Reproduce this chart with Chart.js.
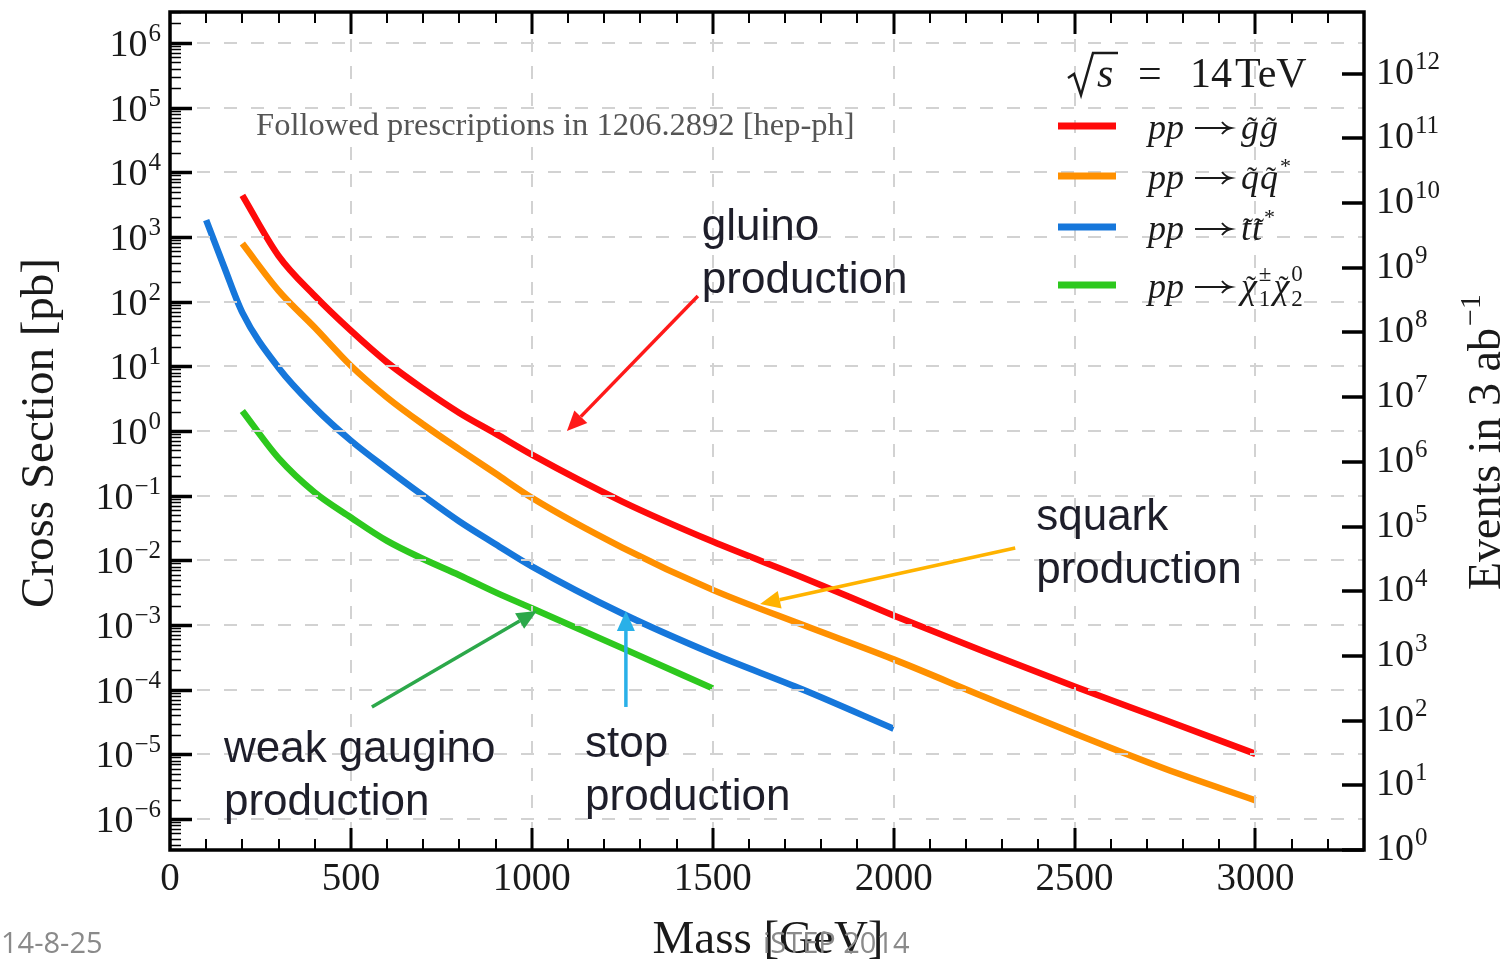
<!DOCTYPE html>
<html>
<head>
<meta charset="utf-8">
<script src="https://cdn.jsdelivr.net/npm/chart.js@4.4.1/dist/chart.umd.min.js"></script>
<style>
  html, body { margin: 0; padding: 0; background: #ffffff; }
  canvas { display: block; }
</style>
</head>
<body>
<canvas id="xsec" width="1506" height="959"></canvas>
<script>
// SUSY pair-production cross sections at sqrt(s) = 14 TeV (mass in GeV, sigma in pb)
const gluinoMass = [200, 300, 400, 500, 600, 700, 800, 900, 1000, 1250, 1500, 1750, 2000, 2250, 2500, 2750, 3000];
const gluinoXsec = [4400, 510, 123, 35.5, 11.5, 4.47, 1.9, 0.91, 0.43, 0.081, 0.0195, 5.4e-3, 1.41e-3, 3.9e-4, 1.12e-4, 3.4e-5, 1.02e-5];

const squarkMass = [200, 300, 400, 500, 600, 700, 800, 900, 1000, 1250, 1500, 1750, 2000, 2250, 2500, 2750, 3000];
const squarkXsec = [790, 148, 39.8, 10.2, 3.3, 1.26, 0.52, 0.22, 0.093, 0.0158, 3.5e-3, 1.0e-3, 2.95e-4, 7.8e-5, 2.1e-5, 6.0e-6, 1.95e-6];

const stopMass = [100, 150, 200, 300, 400, 500, 600, 700, 800, 900, 1000, 1250, 1500, 1750, 2000];
const stopXsec = [1820, 340, 67.6, 9.5, 2.3, 0.71, 0.26, 0.10, 0.040, 0.0178, 8.1e-3, 1.51e-3, 3.6e-4, 1.0e-4, 2.5e-5];

const gauginoMass = [200, 300, 400, 500, 600, 700, 800, 900, 1000, 1250, 1500];
const gauginoXsec = [2.04, 0.38, 0.112, 0.046, 0.020, 0.0105, 5.9e-3, 3.2e-3, 1.82e-3, 4.4e-4, 1.05e-4];

// Axis ranges and tick labels
const massMin = 0, massMax = 3300;
const massTicks = [0, 500, 1000, 1500, 2000, 2500, 3000];
const xsecMin = 1 / 3e6, xsecMax = 3e6;
const xsecExponents = [-6, -5, -4, -3, -2, -1, 0, 1, 2, 3, 4, 5, 6];
const eventExponents = [0, 1, 2, 3, 4, 5, 6, 7, 8, 9, 10, 11, 12];
const lumiInvPb = 3e6; // 3 ab^-1 in pb^-1

const seriesColors = ['#ff0a0a', '#ff9000', '#1677db', '#2dc81e'];

const SERIF = '"Liberation Serif", "DejaVu Serif", serif';
const SANS = '"Liberation Sans", Arial, sans-serif';

function pts(ms, vs) { return ms.map((m, i) => ({ x: m, y: vs[i] })); }

function drawPow(ctx, exp, x, y, align) {
  const base = '10';
  const sup = exp < 0 ? '\u2212' + (-exp) : String(exp);
  ctx.font = '38px ' + SERIF;
  const wb = ctx.measureText(base).width;
  ctx.font = '25px ' + SERIF;
  const ws = ctx.measureText(sup).width;
  const x0 = align === 'right' ? x - (wb + 1 + ws) : x;
  ctx.textAlign = 'left';
  ctx.textBaseline = 'alphabetic';
  ctx.font = '38px ' + SERIF;
  ctx.fillText(base, x0, y);
  ctx.font = '25px ' + SERIF;
  ctx.fillText(sup, x0 + wb + 1, y - 15);
}

function arrow(ctx, x1, y1, x2, y2, color) {
  const a = Math.atan2(y2 - y1, x2 - x1);
  const hl = 20, hw = 9;
  const bx = x2 - hl * Math.cos(a), by = y2 - hl * Math.sin(a);
  ctx.strokeStyle = color;
  ctx.lineWidth = 3.5;
  ctx.lineCap = 'butt';
  ctx.beginPath(); ctx.moveTo(x1, y1); ctx.lineTo(bx, by); ctx.stroke();
  ctx.fillStyle = color;
  ctx.beginPath();
  ctx.moveTo(x2, y2);
  ctx.lineTo(bx + hw * Math.sin(a), by - hw * Math.cos(a));
  ctx.lineTo(bx - hw * Math.sin(a), by + hw * Math.cos(a));
  ctx.closePath(); ctx.fill();
}

// Labelled arrows, anchored in data coordinates (mass, sigma)
const callouts = [
  { lines: ['gluino', 'production'], at: [1470, 10 ** 2.95], tail: [1459, 10 ** 2.087], tip: [1097, 1], color: '#ff1a1a' },
  { lines: ['squark', 'production'], at: [2394, 10 ** -1.53], tail: [2336, 10 ** -1.808], tip: [1631, 10 ** -2.674], color: '#ffb300' },
  { lines: ['weak gaugino', 'production'], at: [149, 10 ** -5.12], tail: [558, 10 ** -4.266], tip: [1014, 10 ** -2.783], color: '#2ca84a' },
  { lines: ['stop', 'production'], at: [1147, 10 ** -5.04], tail: [1260, 10 ** -4.266], tip: [1260, 10 ** -2.783], color: '#29b0e8' }
];

const legendRows = [
  { color: seriesColors[0], parts: [['g', 'tilde'], ['g', 'tilde']] },
  { color: seriesColors[1], parts: [['q', 'tilde'], ['q', 'tilde'], ['*', 'sup']] },
  { color: seriesColors[2], parts: [['t', 'tilde'], ['t', 'tilde'], ['*', 'sup']] },
  { color: seriesColors[3], parts: [['\u03C7', 'tilde'], ['1', 'sub', '\u00B1'], ['\u03C7', 'tilde'], ['2', 'sub', '0']] }
];

// Dashed grid, drawn over the curves
const gridPlugin = {
  id: 'dashedGrid',
  afterDatasetsDraw(chart) {
    const { ctx, chartArea: ca, scales } = chart;
    ctx.save();
    ctx.strokeStyle = '#d2d2d2';
    ctx.lineWidth = 2;
    ctx.setLineDash([13, 14]);
    massTicks.filter(v => v > 0).forEach(v => {
      const px = Math.round(scales.x.getPixelForValue(v));
      ctx.beginPath(); ctx.moveTo(px, ca.top); ctx.lineTo(px, ca.bottom); ctx.stroke();
    });
    xsecExponents.forEach(e => {
      const py = Math.round(scales.y.getPixelForValue(10 ** e));
      ctx.beginPath(); ctx.moveTo(ca.left, py); ctx.lineTo(ca.right, py); ctx.stroke();
    });
    ctx.restore();
  }
};

// Frame, ticks, tick labels, titles, legend and callouts
const decorPlugin = {
  id: 'decor',
  afterDraw(chart) {
    const { ctx, chartArea: ca, scales } = chart;
    const xs = scales.x, ys = scales.y, ys2 = scales.y2;
    ctx.save();
    ctx.strokeStyle = '#000';
    ctx.fillStyle = '#000';
    ctx.setLineDash([]);

    // x ticks (bottom and top)
    for (let v = 100; v < massMax; v += 100) {
      const px = Math.round(xs.getPixelForValue(v));
      const major = v % 500 === 0;
      const len = major ? 22 : 11;
      ctx.lineWidth = major ? 3 : 2;
      ctx.beginPath();
      ctx.moveTo(px, ca.bottom); ctx.lineTo(px, ca.bottom - len);
      ctx.moveTo(px, ca.top); ctx.lineTo(px, ca.top + len);
      ctx.stroke();
    }
    // left y ticks with log minors
    for (let e = -7; e <= 6; e++) {
      for (let k = 1; k <= 9; k++) {
        const v = k * 10 ** e;
        if (v < xsecMin || v > xsecMax) continue;
        const py = Math.round(ys.getPixelForValue(v)) + 0.5;
        const major = k === 1;
        ctx.lineWidth = major ? 3.5 : 1.5;
        ctx.beginPath();
        ctx.moveTo(ca.left, py); ctx.lineTo(ca.left + (major ? 22 : 11), py);
        ctx.stroke();
      }
    }
    // right y ticks (events)
    eventExponents.forEach(e => {
      const py = Math.round(ys2.getPixelForValue(10 ** e));
      ctx.lineWidth = 3.5;
      ctx.beginPath(); ctx.moveTo(ca.right, py); ctx.lineTo(ca.right - 22, py); ctx.stroke();
    });

    // frame
    ctx.lineWidth = 3.5;
    ctx.strokeRect(ca.left, ca.top, ca.right - ca.left, ca.bottom - ca.top);

    // tick labels
    ctx.fillStyle = '#1a1a1a';
    ctx.font = '39px ' + SERIF;
    ctx.textAlign = 'center';
    ctx.textBaseline = 'alphabetic';
    massTicks.forEach(v => {
      ctx.fillText(String(v), xs.getPixelForValue(v), ca.bottom + 40);
    });
    xsecExponents.forEach(e => {
      drawPow(ctx, e, ca.left - 9, ys.getPixelForValue(10 ** e) + 13, 'right');
    });
    eventExponents.forEach(e => {
      drawPow(ctx, e, ca.right + 12, ys2.getPixelForValue(10 ** e) + 10, 'left');
    });

    // axis titles
    ctx.font = '47px ' + SERIF;
    ctx.textAlign = 'center';
    ctx.fillText('Mass [GeV]', (ca.left + ca.right) / 2 + 1, 953);

    ctx.save();
    ctx.translate(53, 433);
    ctx.rotate(-Math.PI / 2);
    ctx.fillText('Cross Section [pb]', 0, 0);
    ctx.restore();

    ctx.save();
    ctx.translate(1500, 590);
    ctx.rotate(-Math.PI / 2);
    ctx.textAlign = 'left';
    ctx.font = '46px ' + SERIF;
    const mainT = 'Events in 3 ab';
    ctx.fillText(mainT, 0, 0);
    const wm = ctx.measureText(mainT).width;
    ctx.font = '30px ' + SERIF;
    ctx.fillText('\u22121', wm + 2, -20);
    ctx.restore();

    // note inside the frame
    ctx.fillStyle = '#555555';
    ctx.font = '32.5px ' + SERIF;
    ctx.textAlign = 'left';
    ctx.fillText('Followed prescriptions in 1206.2892 [hep-ph]', xs.getPixelForValue(238), ys.getPixelForValue(10 ** 4.58));

    // sqrt(s) = 14 TeV
    ctx.fillStyle = '#1a1a1a';
    ctx.strokeStyle = '#1a1a1a';
    ctx.lineWidth = 2.5;
    ctx.beginPath();
    ctx.moveTo(1068, 78); ctx.lineTo(1074, 74); ctx.lineTo(1081, 95); ctx.lineTo(1093, 53); ctx.lineTo(1118, 53);
    ctx.stroke();
    ctx.font = 'italic 42px ' + SERIF;
    ctx.fillText('s', 1097, 87);
    ctx.font = '42px ' + SERIF;
    ctx.fillText('=', 1138, 87);
    ctx.fillText('14', 1190, 87);
    ctx.fillText('TeV', 1235, 87);

    // legend
    const rowY = [126, 176, 227, 285];
    legendRows.forEach((row, i) => {
      const y = rowY[i];
      ctx.strokeStyle = row.color;
      ctx.lineWidth = 7;
      ctx.beginPath(); ctx.moveTo(1058, y); ctx.lineTo(1116, y); ctx.stroke();
      const base = y + 13;
      let x = 1148;
      ctx.fillStyle = '#1a1a1a';
      ctx.strokeStyle = '#1a1a1a';
      ctx.textAlign = 'left';
      ctx.font = 'italic 36px ' + SERIF;
      ctx.fillText('pp', x, base);
      x += ctx.measureText('pp').width + 11;
      // long right arrow
      const ay = base - 11;
      ctx.lineWidth = 2;
      ctx.beginPath();
      ctx.moveTo(x, ay); ctx.lineTo(x + 35, ay);
      ctx.moveTo(x + 27, ay - 6); ctx.quadraticCurveTo(x + 31, ay - 1, x + 36, ay);
      ctx.quadraticCurveTo(x + 31, ay + 1, x + 27, ay + 6);
      ctx.stroke();
      x += 46;
      row.parts.forEach(p => {
        if (p[1] === 'tilde') {
          ctx.font = 'italic 36px ' + SERIF;
          const w = ctx.measureText(p[0]).width;
          ctx.fillText(p[0], x, base);
          ctx.font = '30px ' + SERIF;
          ctx.textAlign = 'center';
          ctx.fillText('\u02DC', x + w / 2 + 2, base - 2);
          ctx.textAlign = 'left';
          x += w + 1;
        } else if (p[1] === 'sup') {
          ctx.font = '22px ' + SERIF;
          ctx.fillText(p[0], x + 1, base - 16);
          x += ctx.measureText(p[0]).width + 1;
        } else if (p[1] === 'sub') {
          ctx.font = '23px ' + SERIF;
          const w1 = ctx.measureText(p[0]).width;
          const w2 = ctx.measureText(p[2]).width;
          ctx.fillText(p[0], x + 1, base + 8);
          ctx.fillText(p[2], x + 1, base - 17);
          x += Math.max(w1, w2) + 3;
        }
      });
    });

    // callouts
    callouts.forEach(c => {
      arrow(ctx, xs.getPixelForValue(c.tail[0]), ys.getPixelForValue(c.tail[1]),
        xs.getPixelForValue(c.tip[0]), ys.getPixelForValue(c.tip[1]), c.color);
      ctx.fillStyle = '#1e1e2a';
      ctx.font = '44px ' + SANS;
      ctx.textAlign = 'left';
      const ax = xs.getPixelForValue(c.at[0]);
      const ay = ys.getPixelForValue(c.at[1]);
      c.lines.forEach((t, j) => ctx.fillText(t, ax, ay + j * 53));
    });

    // footer
    ctx.fillStyle = '#8a8a8a';
    ctx.font = '29px "Open Sans", ' + SANS;
    ctx.textAlign = 'left';
    ctx.fillText('14-8-25', 1, 953);
    ctx.fillText('iSTEP 2014', 763, 953);

    ctx.restore();
  }
};

const datasets = [
  { data: pts(gluinoMass, gluinoXsec), borderColor: seriesColors[0] },
  { data: pts(squarkMass, squarkXsec), borderColor: seriesColors[1] },
  { data: pts(stopMass, stopXsec), borderColor: seriesColors[2] },
  { data: pts(gauginoMass, gauginoXsec), borderColor: seriesColors[3] }
].map(d => Object.assign(d, {
  borderWidth: 6.5, pointRadius: 0, fill: false,
  cubicInterpolationMode: 'monotone',
  borderCapStyle: 'butt', borderJoinStyle: 'round'
}));

new Chart(document.getElementById('xsec'), {
  type: 'line',
  data: { datasets },
  options: {
    responsive: false,
    animation: false,
    events: [],
    layout: { padding: { left: 170, top: 12, right: 142, bottom: 109 } },
    plugins: { legend: { display: false }, tooltip: { enabled: false } },
    scales: {
      x: { type: 'linear', min: massMin, max: massMax, display: false },
      y: { type: 'logarithmic', min: xsecMin, max: xsecMax, display: false },
      y2: { type: 'logarithmic', position: 'right', min: xsecMin * lumiInvPb, max: xsecMax * lumiInvPb, display: false }
    }
  },
  plugins: [gridPlugin, decorPlugin]
});
</script>
</body>
</html>
